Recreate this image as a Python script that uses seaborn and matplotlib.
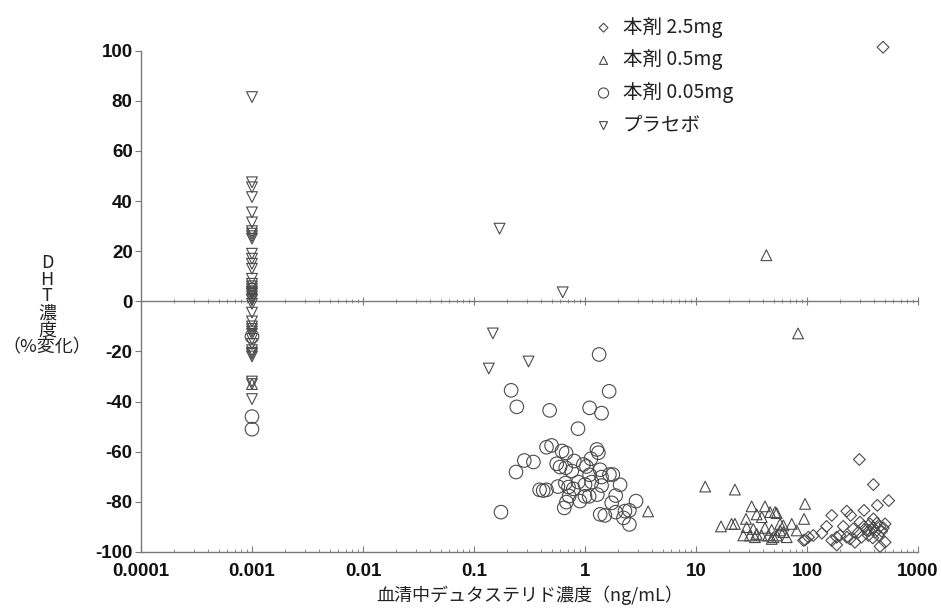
import numpy as np
import pandas as pd
import matplotlib
matplotlib.use("Agg")
import matplotlib.pyplot as plt
import seaborn as sns
from matplotlib.ticker import LogLocator, NullFormatter

# ---------------- data ----------------
group_labels = ["本剤 2.5mg", "本剤 0.5mg", "本剤 0.05mg", "プラセボ"]

x_25 = [484, 296, 396, 544, 430, 326, 228, 167, 247, 150, 212, 136, 114, 96, 103,
        185, 198, 185, 244, 270, 300, 326, 344, 369, 396, 425, 455, 505, 310, 357,
        391, 440, 471, 505, 455, 261, 290, 396, 363, 410, 487, 228, 167, 93]
y_25 = [101.4, -63.1, -73.1, -79.5, -81.4, -83.4, -83.7, -85.4, -85.4, -89.8, -89.8,
        -92.5, -93.4, -95.2, -94.1, -94.1, -93.4, -97.2, -94.8, -96.1, -88.1, -89.8,
        -91.2, -88.8, -90.4, -88.5, -89.8, -88.8, -94.1, -93.4, -94.4, -93.4, -91.7,
        -96.1, -97.8, -90.8, -92.1, -86.8, -91.4, -92.1, -90.4, -94.1, -95.4, -95.4]

x_05 = [43, 83, 0.001, 3.7, 12.1, 22.4, 16.8, 20.9, 22.4, 31.7, 41.8, 35.2, 28.2, 39.1,
        46.5, 51.5, 53.3, 57.2, 61.2, 72.8, 80.7, 96, 94, 28.6, 32.8, 26.7, 30.6, 35.2,
        41.8, 44.8, 48, 49.8, 48, 53.3, 65.6, 61.2, 38.9, 33.9, 57.2]
y_05 = [18.4, -12.8, -33, -83.8, -73.9, -75.1, -89.8, -88.8, -88.8, -81.8, -81.8, -85.0,
        -86.8, -86.1, -84.1, -84.1, -84.5, -88.8, -89.4, -88.8, -91.4, -80.8, -86.8,
        -90.1, -90.8, -93.4, -93.4, -92.8, -90.4, -93.4, -91.2, -94.1, -94.8, -93.4,
        -94.1, -92.1, -93.4, -94.1, -91.4]

x_005 = [0.001, 0.001, 0.001, 1.34, 1.65, 0.216, 0.243, 0.48, 1.10, 1.41, 0.865, 0.45,
         0.50, 0.62, 0.675, 1.28, 1.32, 0.284, 0.343, 0.239, 0.556, 0.596, 0.67, 0.76,
         0.80, 0.966, 1.03, 1.13, 1.37, 1.66, 1.78, 1.10, 1.41, 2.07, 0.57, 0.665, 0.71,
         0.785, 0.87, 1.0, 1.15, 1.41, 0.39, 0.42, 0.45, 0.72, 1.0, 1.29, 1.89, 0.68,
         0.90, 1.09, 1.74, 2.88, 0.65, 1.37, 1.51, 1.89, 2.29, 2.51, 2.22, 2.51, 0.175]
y_005 = [-14, -46, -51, -21.2, -35.9, -35.5, -42.1, -43.5, -42.5, -44.6, -50.8, -58.2,
         -57.5, -59.7, -60.5, -59.1, -60.4, -63.5, -64.1, -68.1, -64.8, -66.1, -66.4,
         -67.7, -63.7, -65.1, -65.9, -62.8, -67.2, -69.1, -69.1, -69.2, -70.1, -73.2,
         -73.9, -72.5, -74.1, -74.8, -72.1, -73.1, -72.1, -73.5, -75.2, -75.5, -75.2,
         -77.7, -77.8, -77.1, -77.5, -80.1, -79.7, -77.8, -80.4, -79.7, -82.4, -85.0,
         -85.4, -84.1, -83.7, -83.4, -86.4, -89.0, -84.1]

x_pl = [0.001] * 40 + [0.17, 0.63, 0.148, 0.136, 0.31]
y_pl = [81.5, 47.5, 45.5, 41.6, 35.5, 31.5, 28, 27, 26, 25, 19, 17, 15, 13, 9, 7, 6,
        5, 4, 3, 2, 1, -1, -4.5, -8, -10, -11, -12, -13, -15, -17, -19.5, -20.5,
        -21, -22, -32, -33, -39, 0.5, 3.5,
        29, 3.6, -12.8, -26.8, -24]

x_ticks = [0.0001, 0.001, 0.01, 0.1, 1, 10, 100, 1000]
x_tick_labels = ["0.0001", "0.001", "0.01", "0.1", "1", "10", "100", "1000"]
y_ticks = [-100, -80, -60, -40, -20, 0, 20, 40, 60, 80, 100]

x_label = "血清中デュタステリド濃度（ng/mL）"
y_label = "D\nH\nT\n濃\n度\n（%変化）"

# ---------------- style ----------------
sns.set_style("white")
plt.rcParams["font.family"] = ["Noto Sans CJK JP", "DejaVu Sans"]

fig = plt.figure(figsize=(9.41, 6.11), dpi=100)
ax = fig.add_axes([0.1498, 0.0966, 0.9756 - 0.1498, 0.917 - 0.0966])

mk_color = "#4a4a4a"
axis_color = "#7a7a7a"

series = [
    (x_25, y_25, "D", 36),
    (x_05, y_05, "^", 60),
    (x_005, y_005, "o", 95),
    (x_pl, y_pl, "v", 60),
]
for (xs, ys, m, s), lab in zip(series, group_labels):
    df = pd.DataFrame({"x": xs, "y": ys})
    sns.scatterplot(data=df, x="x", y="y", marker=m, s=s, facecolor="none",
                    edgecolor=mk_color, linewidth=0.8, ax=ax, label=lab,
                    clip_on=False, zorder=3)

ax.set_xscale("log")
ax.set_xlim(1e-4, 1e3)
ax.set_ylim(-100, 100)

ax.set_xticks(x_ticks, x_tick_labels)
ax.xaxis.set_minor_locator(LogLocator(base=10, subs=np.arange(2, 10), numticks=20))
ax.xaxis.set_minor_formatter(NullFormatter())
ax.set_yticks(y_ticks, [str(v) for v in y_ticks])

for sp in ["top", "right"]:
    ax.spines[sp].set_visible(False)
for sp in ["left", "bottom"]:
    ax.spines[sp].set_color(axis_color)
    ax.spines[sp].set_linewidth(1.0)

tick_fp = matplotlib.font_manager.FontProperties(family="Liberation Sans",
                                                 weight="bold", size=13.5)
for lbl in ax.get_xticklabels() + ax.get_yticklabels():
    lbl.set_fontproperties(tick_fp)
    lbl.set_color("#111111")

ax.tick_params(axis="x", which="major", direction="in", length=4, width=0.8,
               color=axis_color, pad=8, bottom=True)
ax.tick_params(axis="x", which="minor", direction="in", length=2.5, width=0.6,
               color=axis_color, bottom=True)
ax.tick_params(axis="y", which="major", direction="out", length=4, width=0.8,
               color=axis_color, pad=2, left=True)

# zero line as a secondary x axis at y = 0
sec = ax.secondary_xaxis(0.5)
sec.set_xticks(x_ticks)
sec.xaxis.set_minor_locator(LogLocator(base=10, subs=np.arange(2, 10), numticks=20))
sec.tick_params(axis="x", which="major", direction="inout", length=6, width=0.8,
                color=axis_color, labelbottom=False, labeltop=False)
sec.tick_params(axis="x", which="minor", direction="inout", length=3.5, width=0.6,
                color=axis_color)
sec.xaxis.set_major_formatter(NullFormatter())
sec.xaxis.set_minor_formatter(NullFormatter())
sec.spines["top"].set_color(axis_color)
sec.spines["top"].set_linewidth(1.0)

ax.set_xlabel(x_label, fontsize=13, color="#222222", labelpad=4)
ax.set_ylabel(y_label, fontsize=13, color="#222222", rotation=0,
              ha="center", va="center", linespacing=0.92)
ax.yaxis.set_label_coords(-0.121, 0.493)

ax.legend_.remove()
handles, labels = ax.get_legend_handles_labels()
leg = fig.legend(handles, labels, loc="upper left",
                 bbox_to_anchor=(587 / 941, 1 - 9 / 611), frameon=False,
                 fontsize=14, markerscale=0.75, handlelength=0.9,
                 handletextpad=0.55, labelspacing=0.6, borderaxespad=0)
for t in leg.get_texts():
    t.set_color("#222222")

fig.savefig("out.png", dpi=100)
